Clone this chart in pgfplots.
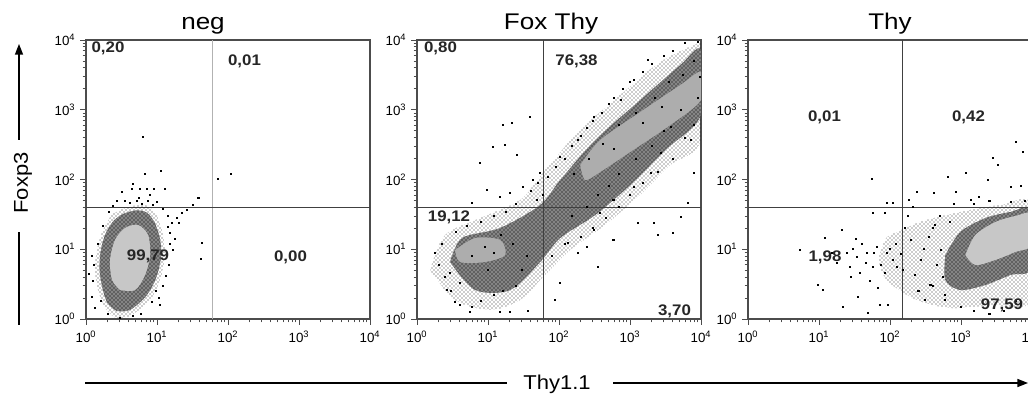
\documentclass[border=0pt]{standalone}
\usepackage{fontspec}
\setmainfont{Liberation Sans}
\usepackage{pgfplots}
\pgfplotsset{compat=1.18}
\usetikzlibrary{patterns,arrows.meta}

\newcommand\titlefont{\fontsize{17}{20}\selectfont}
\newcommand\qfont{\fontsize{11.5}{13}\selectfont\bfseries}
\newcommand\axlabfont{\fontsize{15}{18}\selectfont}

\pgfplotsset{
  fcsAxis/.style={
    scale only axis, width=213pt, height=209.25pt,
    xmin=1, xmax=10000, ymin=1, ymax=10000,
    axis line style={black!70, line width=0.8pt},
    xtick={1,10,100,1000,10000}, ytick={1,10,100,1000,10000},
    xticklabels={10\textsuperscript{0},10\textsuperscript{1},10\textsuperscript{2},10\textsuperscript{3},10\textsuperscript{4}},
    yticklabels={10\textsuperscript{0},10\textsuperscript{1},10\textsuperscript{2},10\textsuperscript{3},10\textsuperscript{4}},
    tick pos=left, tick align=outside,
    major tick length=4.5pt, minor tick length=2.5pt,
    tick style={black!70, line width=0.6pt},
    tick label style={font=\fontsize{10}{11}\selectfont},
    xticklabel style={yshift=-1pt},
  },
  fcsHalo/.style={draw=none, smooth, tension=0.5, pattern=crosshatch dots, pattern color=black!85},
  fcsDense/.style={draw=none, smooth, tension=0.5, fill=black!62},
  fcsGrain/.style={draw=none, smooth, tension=0.5, pattern=crosshatch dots, pattern color=white},
  fcsCore/.style={draw=none, smooth, tension=0.5, fill=black!22},
  fcsCoreMix/.style={draw=none, smooth, tension=0.5, fill=black!32},
  fcsDots/.style={only marks, mark=square*, mark size=0.38pt, mark options={draw=none, fill=black}},
  fcsGate/.style={black!75, line width=0.8pt},
}

\begin{document}
\begin{tikzpicture}
\useasboundingbox (0,0) rectangle (771pt,297pt);

% ---------------- neg ----------------
\begin{axis}[xmode=log, ymode=log, fcsAxis, at={(64.5pt,57.75pt)}]
\addplot[fcsHalo] coordinates {(2.56,1.03) (4.18,1.10) (8.0,1.87) (11.1,3.62) (13.0,8.27) (12.2,16.0) (10.4,28.0) (8.0,40.3) (5.78,43.1) (3.55,39.0) (2.33,31.0) (1.74,18.9) (1.43,9.75) (1.34,5.04) (1.48,2.60) (1.85,1.44) (2.56,1.03)} -- cycle;
\addplot[fcsDense] coordinates {(2.7,1.3) (4.2,1.35) (7.2,2.2) (9.8,4.0) (11.5,8.3) (10.8,15.5) (9.0,25.5) (7.0,34.0) (5.0,36.0) (3.3,32.0) (2.4,25.0) (1.85,16.0) (1.6,9.0) (1.55,5.0) (1.7,2.8) (2.0,1.7) (2.7,1.3)} -- cycle;
\addplot[fcsGrain] coordinates {(2.7,1.3) (4.2,1.35) (7.2,2.2) (9.8,4.0) (11.5,8.3) (10.8,15.5) (9.0,25.5) (7.0,34.0) (5.0,36.0) (3.3,32.0) (2.4,25.0) (1.85,16.0) (1.6,9.0) (1.55,5.0) (1.7,2.8) (2.0,1.7) (2.7,1.3)} -- cycle;
\addplot[fcsCore] coordinates {(3.02,2.60) (4.91,2.60) (6.79,4.27) (8.0,8.27) (7.49,16.0) (5.41,22.3) (3.55,20.2) (2.56,13.6) (2.18,7.01) (2.33,3.62) (3.02,2.60)} -- cycle;
\addplot[fcsDots] coordinates {
(6.37,407) (11.4,132) (6.8,120) (72.8,102) (111,120) (4.6,86) (3.22,66)
(4.46,73) (5.78,73) (7.25,73) (9.1,73) (13.0,73) (39.3,54.3) (37,55)
(32.3,43) (26.6,36.5) (22.6,33.1) (19.2,28.0) (16.3,23.8) (14.3,20.8)
(43.3,12.3) (41.9,7.25) (1.34,1.44) (1.22,2.07) (16.9,9.75) (15.3,17.1)
(8.53,1.75) (2.74,50) (3.55,50) (5.24,50) (7.49,50) (10,48) (1.25,3.5)
(1.3,6) (1.2,8) (1.45,12) (1.7,22) (2.1,35) (4.2,46) (6.2,45) (8.8,44)
(12,38) (14,30) (15,12) (14.5,6) (12,3) (10.5,2) (6,1.2) (4.5,1.1)
(3,1.05) (2,1.2) (1.6,1.8) (18,14) (20,24) (11,1.6) (9.5,2.5) (13.5,4.2)
(1.1,4.5) (2.4,42) (5.5,55) (8,60)};
\addplot[black!30, line width=0.8pt] coordinates {(60,1) (60,10000)};
\addplot[fcsGate] coordinates {(1,40) (10000,40)};
\end{axis}

% ---------------- Fox Thy ----------------
\begin{axis}[xmode=log, ymode=log, fcsAxis, at={(312.75pt,57.75pt)}]
\addplot[fcsHalo] coordinates {(1.53,5.04) (2.48,16.0) (7.74,28.0) (28.4,50.8) (63.9,137) (199,513) (730,1627) (2673,4840) (9817,9355) (10000,9355) (10000,368) (3700,161) (1396,60) (449,22.3) (144,9.75) (63.9,4.27) (28.4,1.87) (10.7,1.35) (3.44,1.87) (1.53,5.04)} -- cycle;
\addplot[fcsDense] coordinates {(2.92,6.56) (4.31,14.5) (14.8,20.2) (54.3,43.1) (104,98.4) (324,368) (1396,1380) (5117,4385) (10000,7194) (10000,841) (3148,265) (1009,83.4) (324,31.0) (104,14.5) (54.3,6.56) (20.5,2.60) (6.58,2.60) (2.92,6.56)} -- cycle;
\addplot[fcsGrain] coordinates {(2.92,6.56) (4.31,14.5) (14.8,20.2) (54.3,43.1) (104,98.4) (324,368) (1396,1380) (5117,4385) (10000,7194) (10000,841) (3148,265) (1009,83.4) (324,31.0) (104,14.5) (54.3,6.56) (20.5,2.60) (6.58,2.60) (2.92,6.56)} -- cycle;
\addplot[fcsCoreMix] coordinates {(199,161) (381,368) (1396,929) (5117,2265) (10000,3475) (10000,1380) (3700,604) (1009,248) (381,128) (234,98.4) (199,161)} -- cycle;
\addplot[fcsCoreMix] coordinates {(3.44,9.75) (6.58,14.5) (14.8,13.6) (17.4,8.27) (9.10,6.56) (4.04,6.56) (3.44,9.75)} -- cycle;
\addplot[fcsDots] coordinates {
(16.3,604) (21.9,646) (39.3,787) (11.8,292) (17.4,312) (7.74,172) (25.7,224)
(5.97,46) (9.7,70.7) (14.8,56.1) (20.5,64.0) (31.3,78.0) (43.3,98.4)
(54.3,124) (49.2,50.8) (304,18.9) (581,13.6) (1268,23.8) (2133,23.8)
(3953,17.1) (5117,29.0) (2427,16.0) (346,5.57) (181,8.83) (131,12.3)
(250,10.8) (104,3.28) (88.3,1.87) (4.04,3.28) (3.44,1.75) (5.6,1.26)
(14.8,1.26) (20.5,1.26) (36.8,1.3) (2.65,2.60) (2.92,4.56) (1754,5164)
(1112,2671) (730,1380) (304,787) (181,368) (104,210) (5117,991) (7079,368)
(3700,566) (2673,240) (7816,124) (1932,124) (1112,78) (581,50.8) (6427,46)
(381,33.1) (2.0,6) (1.8,9) (2.2,12) (2.5,4) (3,2.5) (4,1.6) (6,1.5) (8,1.8)
(12,2.2) (16,2.5) (25,3) (30,5) (35,8) (3.5,18) (5,22) (8,25) (12,30)
(18,35) (25,45) (40,70) (50,90) (60,60) (70,110) (90,150) (120,200)
(150,300) (200,420) (250,550) (300,700) (400,900) (500,1200) (600,1500)
(800,2000) (1000,2500) (1500,3500) (2000,4500) (3000,6000) (4000,7000)
(6000,9000) (9000,9500) (8000,5000) (9500,3000) (9000,1500) (8000,600)
(6000,400) (4000,200) (2500,130) (1500,90) (1000,60) (700,40) (450,28)
(300,20) (200,15) (120,12) (80,8) (150,30) (250,40) (350,60) (500,80)
(700,120) (1200,200) (2000,300) (3000,500) (260,200) (420,330) (700,600)
(1200,900) (2200,1500) (3500,2500) (5500,3200) (160,120) (600,280)
(1500,650) (2800,1100) (9,11) (6,8) (12,9) (15,16) (10,5) (22,12)};
\addplot[fcsGate] coordinates {(60,1) (60,10000)};
\addplot[fcsGate] coordinates {(1,40) (10000,40)};
\end{axis}

% ---------------- Thy ----------------
\begin{axis}[xmode=log, ymode=log, fcsAxis, at={(561pt,57.75pt)}]
\addplot[fcsHalo] coordinates {(90,15) (267,24.6) (977,34.2) (3581,43.1) (10000,43.1) (10000,1.87) (2588,1.59) (706,1.44) (230,1.9) (90,3.62) (70,7.5) (90,15)} -- cycle;
\addplot[fcsDense] coordinates {(601,8.27) (977,17.7) (2203,28.0) (4955,34.2) (10000,36.5) (10000,5.38) (4955,4.27) (2203,3.07) (977,2.60) (601,3.62) (601,8.27)} -- cycle;
\addplot[fcsGrain] coordinates {(601,8.27) (977,17.7) (2203,28.0) (4955,34.2) (10000,36.5) (10000,5.38) (4955,4.27) (2203,3.07) (977,2.60) (601,3.62) (601,8.27)} -- cycle;
\addplot[fcsCore] coordinates {(1151,8.27) (1592,16.0) (3048,24.6) (5834,30.0) (10000,32.0) (10000,11.5) (5834,9.14) (3048,7.01) (1592,5.94) (1151,8.27)} -- cycle;
\addplot[fcsDots] coordinates {
(5834,345) (7311,248) (2761,203) (3251,161) (641,109) (1151,124) (4955,78)
(2350,98.4) (56.1,102) (242,66.2) (407,64) (832,66.2) (1352,50.8)
(1754,56.1) (91.4,46) (111,46) (181,50.8) (212,40.4) (58,33.1) (85.5,33.1)
(21.2,18.9) (12.2,14.5) (5.41,9.75) (9.71,3.07) (11.4,2.60) (21.9,1.49)
(35.6,2.07) (49.3,1.22) (72.8,1.59) (94.2,1.59) (24.9,8.83) (34.4,7.74)
(47.7,8.83) (58.0,5.57) (38.0,4.56) (27.5,5.57) (18.0,6.35) (65.9,10.8)
(91.4,8.83) (85.5,4.56) (126,5.57) (193,13.6) (267,7.01) (369,3.07)
(511,9.75) (313,1.87) (600,1.87) (226,4.27) (433,22.3) (400,20) (500,30)
(700,25) (800,45) (1500,45) (2500,50) (5000,48) (8000,50) (9000,60)
(7000,80) (400,3) (600,2.2) (1000,1.5) (1500,1.3) (2500,1.2) (4000,1.3)
(6000,1.8) (9000,2.5) (300,10) (350,15) (450,6) (550,4) (250,2.5)
(150,5) (120,12) (160,20) (180,30) (30,10) (40,12) (45,6.5) (60,9) (75,6)
(100,10) (110,7) (140,8.5) (28,4) (52,3.5) (68,2.8) (15,9) (33,14)};
\addplot[fcsGate] coordinates {(148,1) (148,10000)};
\addplot[fcsGate] coordinates {(1,40) (10000,40)};
\end{axis}

% ---------------- titles, gate frequencies, axis captions ----------------
\begin{scope}[x=0.75pt, y=-0.75pt, shift={(0pt,297pt)}]
\node[anchor=base] at (203,30) {\titlefont\scalebox{1.15}[1]{neg}};
\node[anchor=base] at (551,30) {\titlefont\scalebox{1.15}[1]{Fox Thy}};
\node[anchor=base] at (890,30) {\titlefont\scalebox{1.15}[1]{Thy}};

\begin{scope}[every node/.style={text=black!85, inner sep=0pt}]
\node at (108,48.5)   {\qfont\scalebox{1.1}[1]{0,20}};
\node at (244.5,61.5) {\qfont\scalebox{1.1}[1]{0,01}};
\node at (148,256)    {\qfont\scalebox{1.1}[1]{99,79}};
\node at (290.5,257)  {\qfont\scalebox{1.1}[1]{0,00}};
\node at (440.5,48)   {\qfont\scalebox{1.1}[1]{0,80}};
\node at (576.5,61)   {\qfont\scalebox{1.1}[1]{76,38}};
\node at (449,217.5)  {\qfont\scalebox{1.1}[1]{19,12}};
\node at (674.5,311.5){\qfont\scalebox{1.1}[1]{3,70}};
\node at (824.5,117.5){\qfont\scalebox{1.1}[1]{0,01}};
\node at (968.5,117.5){\qfont\scalebox{1.1}[1]{0,42}};
\node at (825,257)    {\qfont\scalebox{1.1}[1]{1,98}};
\node at (1002,305)   {\qfont\scalebox{1.1}[1]{97,59}};
\end{scope}

% Foxp3 caption with upward arrow
\draw[line width=1.1pt] (19,325) -- (19,232);
\draw[line width=1.1pt, -{Triangle[length=8pt,width=6pt]}] (19,140) -- (19,44);
\node[rotate=90] at (23,183) {\axlabfont\scalebox{1.1}[1]{Foxp3}};

% Thy1.1 caption with rightward arrow
\draw[line width=1.1pt] (85,383) -- (507,383);
\draw[line width=1.1pt, -{Triangle[length=8pt,width=6pt]}] (613,383) -- (1028,383);
\node[anchor=base] at (557,390) {\axlabfont\scalebox{1.1}[1]{Thy1.1}};
\end{scope}
\end{tikzpicture}
\end{document}
